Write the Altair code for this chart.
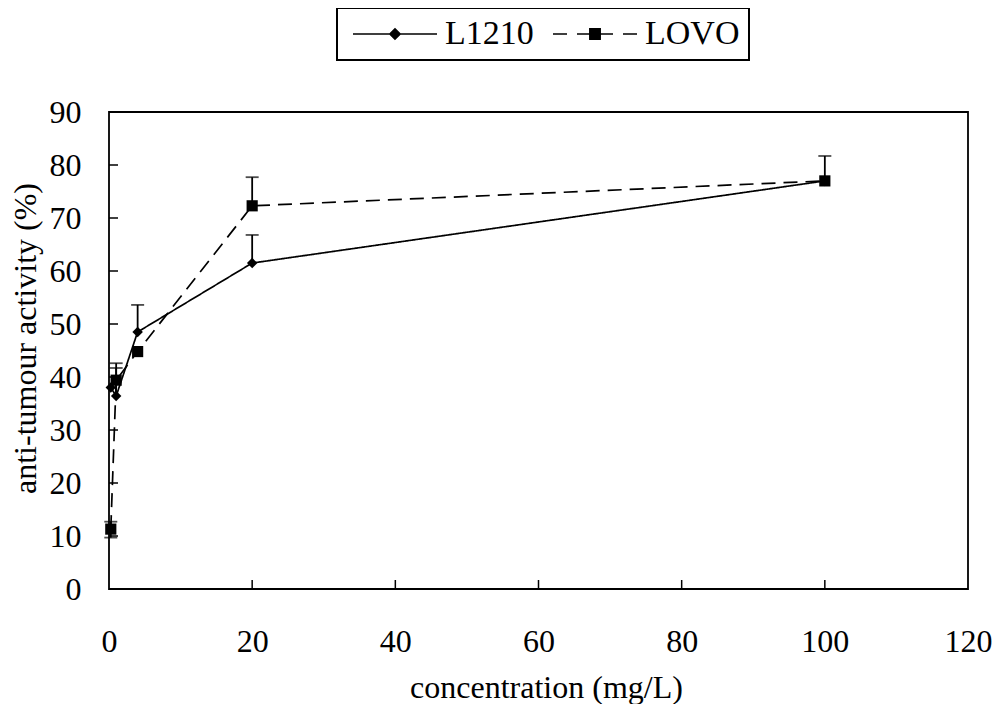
import altair as alt
import pandas as pd

# ---- data ----
series_names = ["L1210", "LOVO"]
conc = [0.25, 1, 4, 20, 100]
l1210_act = [38.0, 36.4, 48.5, 61.5, 77.0]
l1210_err_up = [0.0, 6.2, 5.1, 5.3, 0.0]
l1210_err_lo = [0.0, 0.0, 0.0, 0.0, 0.0]
lovo_act = [11.3, 39.4, 44.8, 72.3, 77.0]
lovo_err_up = [1.4, 2.3, 0.0, 5.4, 4.7]
lovo_err_lo = [1.6, 0.0, 0.0, 0.0, 0.0]
x_ticks = [0, 20, 40, 60, 80, 100, 120]
y_ticks = [0, 10, 20, 30, 40, 50, 60, 70, 80, 90]

rows = []
for name, acts, ups, los in [("L1210", l1210_act, l1210_err_up, l1210_err_lo),
                             ("LOVO", lovo_act, lovo_err_up, lovo_err_lo)]:
    for c, a, u, l in zip(conc, acts, ups, los):
        rows.append({"series": name, "conc": c, "act": a,
                     "hi": a + u, "lo": a - l, "has_hi": u > 0, "has_lo": l > 0})
df = pd.DataFrame(rows)

caps = []
for r in rows:
    if r["has_hi"]:
        caps.append({"conc": r["conc"], "act": r["hi"]})
    if r["has_lo"]:
        caps.append({"conc": r["conc"], "act": r["lo"]})
caps_df = pd.DataFrame(caps)

W, H = 859, 477
FONT = "Liberation Serif"

xscale = alt.Scale(domain=[0, 120], nice=False, zero=False)
yscale = alt.Scale(domain=[0, 90], nice=False)

x_axis = alt.Axis(values=x_ticks, title="concentration (mg/L)", labelFlush=False,
                  labelPadding=62, labelBaseline="alphabetic",
                  titleX=437, titleY=108, titleBaseline="alphabetic", titleAlign="center")
y_axis = alt.Axis(values=y_ticks, title="anti-tumour activity (%)", labelFlush=False,
                  labelPadding=28, titleX=-74, titleY=226, titleAngle=-90,
                  titleBaseline="alphabetic", titleAlign="center")

X = alt.X("conc:Q", scale=xscale, axis=x_axis, title="concentration (mg/L)")
Y = alt.Y("act:Q", scale=yscale, axis=y_axis, title="anti-tumour activity (%)")

base = alt.Chart(df)

lines = base.mark_line(color="black", strokeWidth=1.7).encode(
    x=X, y=Y,
    strokeDash=alt.StrokeDash("series:N", scale=alt.Scale(domain=series_names, range=[[1, 0], [14, 8]]), legend=None),
    order="conc:Q",
)

err_stems = base.transform_filter("datum.has_hi || datum.has_lo").mark_rule(color="black", strokeWidth=1.8).encode(
    x=X, y=alt.Y("lo:Q", scale=yscale, axis=y_axis, title="anti-tumour activity (%)"), y2="hi:Q"
)

err_caps = alt.Chart(caps_df).mark_tick(color="black", orient="horizontal", size=13, thickness=1.8).encode(
    x=X, y=Y
)

points = base.mark_point(filled=True, color="black", opacity=1).encode(
    x=X, y=Y,
    shape=alt.Shape("series:N", scale=alt.Scale(domain=series_names, range=["diamond", "square"]), legend=None),
    size=alt.Size("series:N", scale=alt.Scale(domain=series_names, range=[110, 125]), legend=None),
)

leg_paths = [
    "M-10.5,0H10.5M0,-1.3L1.3,0L0,1.3L-1.3,0Z",
    "M-10.5,0H-7M-4.5,0H4.5M7,0H10.5M-1.3,-1.3H1.3V1.3H-1.3Z",
]
legend_layer = base.transform_filter("datum.act < -1000").mark_point(
    filled=True, fill="black", stroke="black", strokeWidth=1.8).encode(
    x=X, y=Y,
    shape=alt.Shape("series:N", scale=alt.Scale(domain=series_names, range=leg_paths),
                    legend=alt.Legend(title=None, orient="none", legendX=228, legendY=-104,
                                      direction="horizontal", labelFont=FONT, labelFontSize=34,
                                      labelColor="black", symbolSize=64, symbolOpacity=1,
                                      symbolOffset=32, labelOffset=33, columnPadding=12,
                                      padding=9, strokeColor="black", fillColor="white")),
)

xt = alt.Chart(pd.DataFrame({"conc": x_ticks[1:-1]})).mark_rule(color="black", strokeWidth=1.5).encode(
    x=X, y=alt.value(H), y2=alt.value(H - 9)
)
yt = alt.Chart(pd.DataFrame({"act": y_ticks[1:-1]})).mark_rule(color="black", strokeWidth=1.5).encode(
    y=Y, x=alt.value(0), x2=alt.value(9)
)

chart = alt.layer(lines, err_stems, err_caps, points, legend_layer, xt, yt).resolve_scale(
    shape="independent"
).properties(
    width=W, height=H,
    autosize=alt.AutoSizeParams(type="none"),
    padding={"left": 101, "top": 104, "right": 24, "bottom": 115},
).configure_view(
    stroke="black", strokeWidth=1.8
).configure_axis(
    labelFont=FONT, labelFontSize=32, labelColor="black",
    titleFont=FONT, titleFontSize=32, titleFontWeight="normal", titleColor="black",
    ticks=False, tickSize=0, domain=False, grid=False,
).configure_legend(
    strokeWidth=2
)

chart.save("out.html", embed_options={"renderer": "svg", "actions": False})
